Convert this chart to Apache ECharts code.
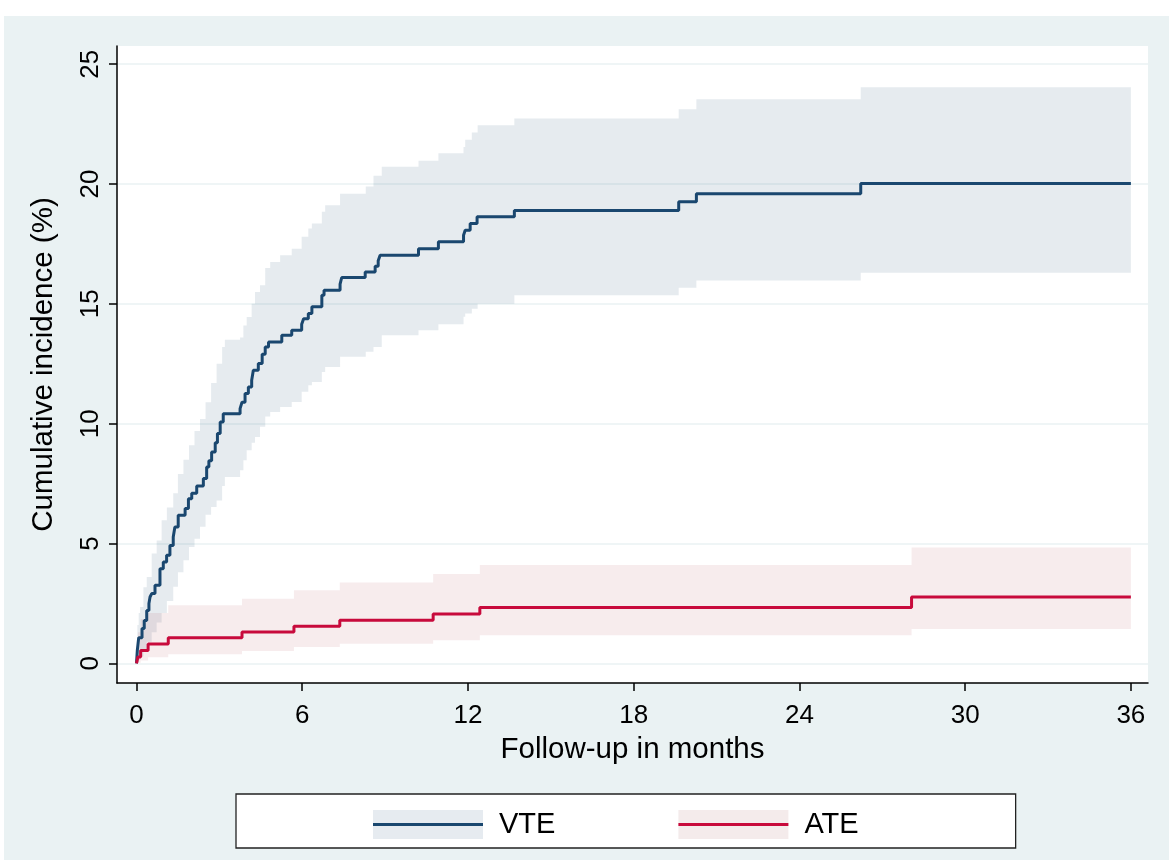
<!DOCTYPE html>
<html><head><meta charset="utf-8">
<script src="https://cdn.jsdelivr.net/npm/echarts@6/dist/echarts.min.js"></script>
<style>
html,body{margin:0;padding:0;background:#fff;width:1169px;height:860px;overflow:hidden;}
#c{position:absolute;left:4px;top:16px;width:1165px;height:844px;}
</style></head><body><div id="c"></div>
<script>
const xTicks = [0, 6, 12, 18, 24, 30, 36];
const yTicks = [0, 5, 10, 15, 20, 25];

const vteTime = [0, 0.03, 0.08, 0.20, 0.28, 0.37, 0.45, 0.49, 0.55, 0.67, 0.85, 0.97, 1.09, 1.21, 1.33, 1.39, 1.51, 1.76, 1.88, 2.00, 2.18, 2.42, 2.54, 2.62, 2.72, 2.85, 2.93, 3.03, 3.14, 3.75, 3.82, 3.93, 4.05, 4.17, 4.23, 4.41, 4.55, 4.66, 4.78, 5.26, 5.62, 5.98, 6.05, 6.22, 6.35, 6.71, 6.79, 7.37, 7.43, 8.28, 8.64, 8.75, 8.82, 10.21, 10.93, 11.84, 11.90, 12.08, 12.33, 13.68, 19.63, 20.27, 26.22, 36];
const vteEst  = [0, 0.55, 1.07, 1.45, 1.79, 2.21, 2.50, 2.77, 2.91, 3.26, 3.95, 4.23, 4.51, 4.92, 5.27, 5.69, 6.18, 6.46, 6.87, 7.10, 7.40, 7.71, 8.19, 8.45, 8.82, 9.20, 9.59, 10.07, 10.42, 10.63, 10.90, 11.26, 11.53, 11.81, 12.23, 12.51, 12.90, 13.20, 13.41, 13.69, 13.90, 14.15, 14.38, 14.60, 14.88, 15.36, 15.57, 15.82, 16.10, 16.33, 16.57, 16.80, 17.03, 17.30, 17.59, 17.86, 18.07, 18.35, 18.63, 18.90, 19.26, 19.60, 20.02, 20.02];

const vteBandTime = [0, 0.03, 0.08, 0.13, 0.25, 0.37, 0.55, 0.73, 0.91, 1.10, 1.33, 1.50, 1.70, 1.90, 2.10, 2.30, 2.50, 2.70, 2.90, 3.10, 3.20, 3.75, 3.87, 3.99, 4.17, 4.29, 4.47, 4.66, 4.84, 5.20, 5.62, 5.98, 6.22, 6.35, 6.71, 6.83, 7.37, 8.30, 8.58, 8.88, 10.21, 10.93, 11.84, 11.90, 12.14, 12.35, 13.68, 19.63, 20.27, 26.22, 36];
const vteHi = [0, 1.60, 2.10, 2.35, 3.18, 3.60, 4.58, 5.13, 5.97, 6.50, 7.10, 7.90, 8.50, 9.10, 9.70, 10.20, 10.90, 11.70, 12.50, 13.20, 13.50, 13.60, 14.10, 14.45, 15.00, 15.50, 15.78, 16.50, 16.75, 17.03, 17.30, 17.80, 18.15, 18.35, 18.84, 19.12, 19.60, 19.90, 20.35, 20.72, 20.97, 21.28, 21.55, 21.85, 22.15, 22.45, 22.73, 23.12, 23.54, 24.04, 24.04];
const vteLo = [0, 0.05, 0.15, 0.30, 0.60, 0.90, 1.30, 1.70, 2.10, 2.60, 3.20, 3.80, 4.30, 4.86, 5.20, 5.70, 6.20, 6.52, 6.80, 7.40, 7.78, 8.06, 8.47, 8.89, 9.20, 9.45, 9.87, 10.30, 10.49, 10.70, 10.91, 11.33, 11.60, 11.74, 12.16, 12.37, 12.79, 13.00, 13.20, 13.69, 13.90, 14.15, 14.46, 14.60, 14.80, 15.00, 15.36, 15.67, 15.98, 16.30, 16.30];

const ateTime = [0, 0.05, 0.15, 0.42, 1.15, 3.82, 5.70, 7.36, 10.74, 12.43, 28.06, 36];
const ateEst  = [0, 0.27, 0.54, 0.81, 1.07, 1.31, 1.55, 1.80, 2.06, 2.33, 2.77, 2.77];
const ateLo   = [0, 0.03, 0.12, 0.25, 0.38, 0.52, 0.68, 0.82, 0.96, 1.17, 1.43, 1.43];
const ateHi   = [0, 1.30, 1.85, 2.10, 2.42, 2.70, 3.05, 3.37, 3.73, 4.10, 4.83, 4.83];

const FONT = '"Liberation Sans", Arial, sans-serif';
const NARROW = '"Liberation Sans Narrow", "Arial Narrow", "Liberation Sans", sans-serif';
const NAVY = '#1A476F';
const RED = '#C80A3C';
const pairs = (t, v) => t.map((x, i) => [x, v[i]]);

function bandSeries(name, t, lo, hi, color) {
  return {
    name: name, type: 'custom', silent: true, z: 1, clip: true,
    data: t.map((x, i) => [x, lo[i], hi[i]]),
    encode: {x: 0, y: [1, 2]},
    renderItem: function (params, api) {
      if (params.dataIndex !== 0) return null;
      const n = t.length, pts = [];
      for (let i = 0; i < n; i++) {
        const x2 = i < n - 1 ? t[i + 1] : t[i];
        pts.push(api.coord([t[i], hi[i]]));
        pts.push(api.coord([x2, hi[i]]));
      }
      for (let i = n - 1; i >= 0; i--) {
        const x2 = i < n - 1 ? t[i + 1] : t[i];
        pts.push(api.coord([x2, lo[i]]));
        pts.push(api.coord([t[i], lo[i]]));
      }
      return {type: 'polygon', shape: {points: pts}, style: {fill: color, stroke: null}};
    }
  };
}

const chart = echarts.init(document.getElementById('c'), null, {renderer: 'canvas'});
const legendBase = {
  left: 232, top: 778, orient: 'horizontal',
  padding: [16, 157, 9, 137],
  itemWidth: 110, itemHeight: 29, itemGap: 123,
  selectedMode: false
};
const lineIcon = 'path://M0,0L0,0M0,13L110,13L110,16L0,16ZM110,29L110,29';
chart.setOption({
  animation: false,
  backgroundColor: '#EAF2F3',
  grid: {left: 113, top: 30, width: 1031, height: 637, show: true, backgroundColor: '#fff', borderWidth: 0, containLabel: false},
  xAxis: {
    type: 'value', min: -0.706, max: 36.62,
    axisLine: {show: true, onZero: false, lineStyle: {color: '#000', width: 1.5}},
    axisTick: {show: true, length: 8, customValues: xTicks, lineStyle: {color: '#000', width: 1.5}},
    axisLabel: {customValues: xTicks, fontSize: 26, color: '#000', margin: 20, fontFamily: NARROW},
    splitLine: {show: false},
    name: 'Follow-up in months', nameLocation: 'middle', nameGap: 52,
    nameTextStyle: {fontSize: 29.5, color: '#000', fontFamily: FONT}
  },
  yAxis: {
    type: 'value', min: -0.82, max: 25.76,
    axisLine: {show: true, onZero: false, lineStyle: {color: '#000', width: 1.5}},
    axisTick: {show: true, length: 8, customValues: yTicks, lineStyle: {color: '#000', width: 1.5}},
    axisLabel: {customValues: yTicks, rotate: 90, fontSize: 26, color: '#000', margin: 13, fontFamily: NARROW},
    splitLine: {show: true, lineStyle: {color: '#EAF2F3', width: 1.5}},
    name: 'Cumulative incidence (%)', nameLocation: 'middle', nameGap: 58, nameRotate: 90,
    nameTextStyle: {fontSize: 29.5, color: '#000', fontFamily: FONT}
  },
  legend: [
    Object.assign({}, legendBase, {
      z: 4, backgroundColor: '#fff', borderColor: '#222', borderWidth: 1.3,
      data: [
        {name: 'VTE', icon: 'rect', itemStyle: {color: '#E6EBF0', borderWidth: 0}},
        {name: 'ATE', icon: 'rect', itemStyle: {color: '#F4EBEB', borderWidth: 0}}
      ],
      textStyle: {fontSize: 29, color: '#000', fontFamily: FONT, padding: [0, 0, 0, 11]}
    }),
    Object.assign({}, legendBase, {
      z: 5, backgroundColor: 'transparent', borderWidth: 0,
      data: [
        {name: 'VTE', icon: lineIcon, itemStyle: {color: NAVY, borderWidth: 0}},
        {name: 'ATE', icon: lineIcon, itemStyle: {color: RED, borderWidth: 0}}
      ],
      textStyle: {fontSize: 29, color: 'rgba(0,0,0,0)', fontFamily: FONT, padding: [0, 0, 0, 11]}
    })
  ],
  series: [
    bandSeries('vteBand', vteBandTime, vteLo, vteHi, 'rgba(26,71,111,0.11)'),
    bandSeries('ateBand', ateTime, ateLo, ateHi, 'rgba(160,40,50,0.085)'),
    {name: 'VTE', type: 'line', step: 'end', symbol: 'none', lineStyle: {color: NAVY, width: 3},
     itemStyle: {color: NAVY}, data: pairs(vteTime, vteEst), z: 3},
    {name: 'ATE', type: 'line', step: 'end', symbol: 'none', lineStyle: {color: RED, width: 3},
     itemStyle: {color: RED}, data: pairs(ateTime, ateEst), z: 3}
  ]
});
</script></body></html>
